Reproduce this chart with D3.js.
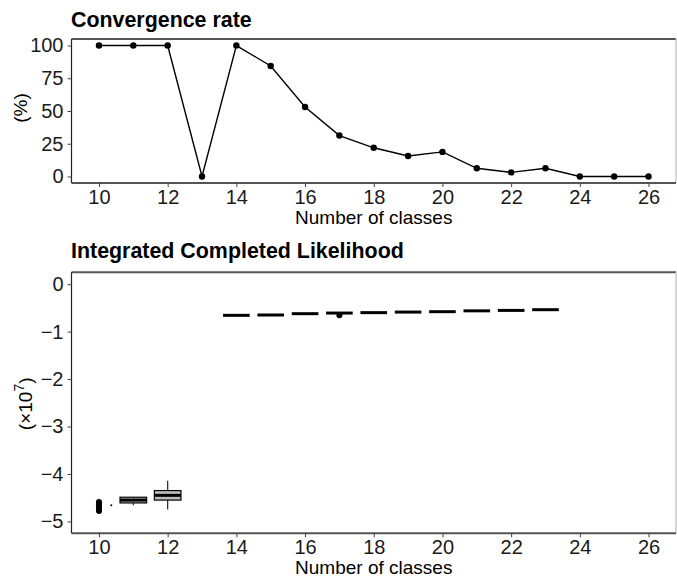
<!DOCTYPE html>
<html>
<head>
<meta charset="utf-8">
<script src="https://cdn.jsdelivr.net/npm/d3@7"></script>
<style>
  body { margin: 0; background: #fff; }
  text { font-family: "Liberation Sans", Arial, sans-serif; }
</style>
</head>
<body>
<svg id="chart" width="677" height="578"></svg>
<script>
// ---convergence rate (%) per number of classes---
var classes = [10, 11, 12, 13, 14, 15, 16, 17, 18, 19, 20, 21, 22, 23, 24, 25, 26]
var convRate = [100, 100, 100, 0, 100, 84.4, 53.1, 31.25, 21.9, 15.6, 18.75, 6.25, 3.1, 6.25, 0, 0, 0]
var rateTicks = [0, 25, 50, 75, 100]
var classTicks = [10, 12, 14, 16, 18, 20, 22, 24, 26]

// ---ICL boxplots (x10^7)---
var boxK = [11, 12, 14, 15, 16, 17, 18, 19, 20, 21, 22, 23]
var boxLow = [-4.66, -4.75, -0.657, -0.65, -0.622, -0.609, -0.60, -0.588, -0.58, -0.562, -0.553, -0.538]
var boxQ1 = [-4.61, -4.55, -0.657, -0.65, -0.622, -0.609, -0.60, -0.588, -0.58, -0.562, -0.553, -0.538]
var boxMed = [-4.55, -4.45, -0.657, -0.65, -0.622, -0.609, -0.60, -0.588, -0.58, -0.562, -0.553, -0.538]
var boxQ3 = [-4.49, -4.35, -0.657, -0.65, -0.622, -0.609, -0.60, -0.588, -0.58, -0.562, -0.553, -0.538]
var boxHigh = [-4.49, -4.14, -0.657, -0.65, -0.622, -0.609, -0.60, -0.588, -0.58, -0.562, -0.553, -0.538]
var outlierK = [10, 10, 10, 10, 10, 10, 17]
var outlierV = [-4.59, -4.62, -4.66, -4.70, -4.74, -4.78, -0.655]
var strayK = [10.36]
var strayV = [-4.66]
var iclTicks = [0, -1, -2, -3, -4, -5]

var svg = d3.select("#chart")

function panel(top, bottom, yDomain, yTicks, fmt, title, titleY, yLabelFn)
{
    var x = d3.scaleLinear().domain([9.2, 26.8]).range([71.5, 676])
    var y = d3.scaleLinear().domain(yDomain).range([bottom, top])
    var g = svg.append("g")

    //---title---
    g.append("text").attr("x", 71).attr("y", titleY)
        .attr("font-size", 21.4).attr("font-weight", "bold").attr("fill", "#000")
        .text(title)

    //---border: top dark, right light---
    g.append("line").attr("x1", 71.5).attr("x2", 676).attr("y1", top).attr("y2", top)
        .attr("stroke", "#555").attr("stroke-width", 2)
    g.append("line").attr("x1", 676).attr("x2", 676).attr("y1", top).attr("y2", bottom)
        .attr("stroke", "#bbb").attr("stroke-width", 1.2)

    //---axes---
    var xa = g.append("g").attr("transform", "translate(0," + bottom + ")")
        .call(d3.axisBottom(x).tickValues(classTicks).tickSize(4).tickPadding(3))
    var ya = g.append("g").attr("transform", "translate(71.5,0)")
        .call(d3.axisLeft(y).tickValues(yTicks).tickFormat(fmt).tickSize(4).tickPadding(4))
    xa.select(".domain").attr("stroke", "#555").attr("stroke-width", 2)
        .attr("d", "M71.5,0H676")
    ya.select(".domain").attr("stroke", "#222").attr("stroke-width", 1.2)
        .attr("d", "M0," + top + "V" + bottom)
    g.selectAll(".tick line").attr("stroke", "#444").attr("stroke-width", 1)
    g.selectAll(".tick text").attr("font-size", 20).attr("fill", "#1a1a1a")
        .attr("font-family", "Liberation Sans, Arial, sans-serif")

    //---axis titles---
    g.append("text").attr("x", (71.5 + 676) / 2).attr("y", bottom + 41)
        .attr("text-anchor", "middle").attr("font-size", 19).attr("fill", "#000")
        .text("Number of classes")
    yLabelFn(g, (top + bottom) / 2)
    return {x: x, y: y, g: g}
}

//==============Convergence rate==============
var p1 = panel(39, 183, [-5, 105], rateTicks, d3.format("d"), "Convergence rate", 27,
    function(g, cy) {
        g.append("text").attr("transform", "translate(27," + (cy - 3) + ") rotate(-90)")
            .attr("text-anchor", "middle").attr("font-size", 19).text("(%)")
    })

var line = d3.line().x(function(d, i) { return p1.x(classes[i]) }).y(function(d) { return p1.y(d) })
p1.g.append("path").datum(convRate).attr("d", line)
    .attr("fill", "none").attr("stroke", "#000").attr("stroke-width", 1.4)
p1.g.selectAll("circle.pt").data(convRate).enter().append("circle")
    .attr("cx", function(d, i) { return p1.x(classes[i]) })
    .attr("cy", function(d) { return p1.y(d) })
    .attr("r", 3.2).attr("fill", "#000")

//==============Integrated Completed Likelihood==============
var minus = function(d) { return d < 0 ? "\u2212" + Math.abs(d) : String(d) }
var p2 = panel(272.3, 533.3, [-5.25, 0.25], iclTicks, minus, "Integrated Completed Likelihood", 258,
    function(g, cy) {
        var t = g.append("text").attr("transform", "translate(32," + (cy + 1) + ") rotate(-90)")
            .attr("text-anchor", "middle").attr("font-size", 19)
        t.append("tspan").text("(\u00d710")
        t.append("tspan").attr("dy", -8).attr("font-size", 14).text("7")
        t.append("tspan").attr("dy", 8).text(")")
    })

var bw = 0.775
var boxes = p2.g.selectAll("g.box").data(boxK).enter().append("g")
boxes.append("line")
    .attr("x1", function(d) { return p2.x(d) }).attr("x2", function(d) { return p2.x(d) })
    .attr("y1", function(d, i) { return p2.y(boxHigh[i]) })
    .attr("y2", function(d, i) { return p2.y(boxLow[i]) })
    .attr("stroke", "#222").attr("stroke-width", 1.2)
boxes.append("rect")
    .attr("x", function(d) { return p2.x(d - bw / 2) })
    .attr("width", function(d) { return p2.x(d + bw / 2) - p2.x(d - bw / 2) })
    .attr("y", function(d, i) { return p2.y(boxQ3[i]) })
    .attr("height", function(d, i) { return p2.y(boxQ1[i]) - p2.y(boxQ3[i]) })
    .attr("fill", "#bdbdbd").attr("stroke", "#000").attr("stroke-width", 1.2)
boxes.append("line")
    .attr("x1", function(d) { return p2.x(d - bw / 2) }).attr("x2", function(d) { return p2.x(d + bw / 2) })
    .attr("y1", function(d, i) { return p2.y(boxMed[i]) })
    .attr("y2", function(d, i) { return p2.y(boxMed[i]) })
    .attr("stroke", "#000").attr("stroke-width", 3)

p2.g.selectAll("circle.out").data(outlierV).enter().append("circle")
    .attr("cx", function(d, i) { return p2.x(outlierK[i]) })
    .attr("cy", function(d) { return p2.y(d) })
    .attr("r", 3).attr("fill", "#000")
p2.g.selectAll("circle.stray").data(strayV).enter().append("circle")
    .attr("cx", function(d, i) { return p2.x(strayK[i]) })
    .attr("cy", function(d) { return p2.y(d) })
    .attr("r", 1).attr("fill", "#000")
</script>
</body>
</html>
